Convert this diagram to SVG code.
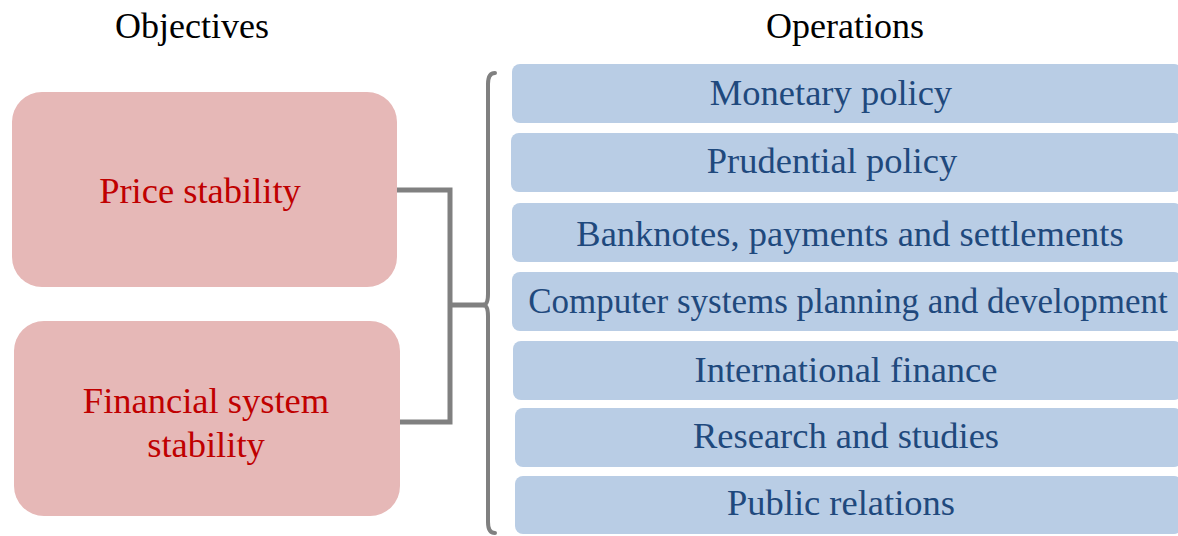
<svg xmlns="http://www.w3.org/2000/svg" width="1178" height="536" viewBox="0 0 1178 536">
<style>
.title{font-family:"Liberation Serif",serif;font-size:36px;fill:#000;text-anchor:middle}
.obj rect{fill:#E6B8B7}
.obj text{font-family:"Liberation Serif",serif;font-size:36.5px;fill:#C00000;text-anchor:middle}
.op rect{fill:#B9CDE5}
.op text{font-family:"Liberation Serif",serif;font-size:36.5px;fill:#1F497D;text-anchor:middle}
.conn{fill:none;stroke:#808080;stroke-width:5}
.brace{fill:none;stroke:#808080;stroke-width:4;stroke-linecap:round}
</style>
<rect width="1178" height="536" fill="#fff"/>
<text class="title" x="192" y="38">Objectives</text>
<text class="title" x="845" y="38">Operations</text>
<g id="obj1" class="obj"><rect x="12" y="92" width="385" height="195" rx="30"/><text x="200" y="203">Price stability</text></g>
<g id="obj2" class="obj"><rect x="14" y="321" width="386" height="195" rx="30"/><text x="206" y="413">Financial system</text><text x="206" y="457">stability</text></g>
<g id="op1" class="op"><rect x="512" y="64" width="670" height="59" rx="8"/><text x="831" y="105">Monetary policy</text></g>
<g id="op2" class="op"><rect x="511" y="133" width="671" height="59" rx="8"/><text x="832" y="173">Prudential policy</text></g>
<g id="op3" class="op"><rect x="512" y="203" width="670" height="59" rx="8"/><text x="850" y="246">Banknotes, payments and settlements</text></g>
<g id="op4" class="op"><rect x="512" y="272" width="670" height="59" rx="8"/><text x="848" y="313" style="font-size:35px">Computer systems planning and development</text></g>
<g id="op5" class="op"><rect x="513" y="341" width="669" height="59" rx="8"/><text x="846" y="382">International finance</text></g>
<g id="op6" class="op"><rect x="515" y="408" width="667" height="59" rx="8"/><text x="846" y="448">Research and studies</text></g>
<g id="op7" class="op"><rect x="515" y="476" width="667" height="58" rx="8"/><text x="841" y="515">Public relations</text></g>
<g id="connectors">
<path class="conn" d="M397 190 H450 V422 H400"/>
<path class="conn" d="M450 305 H484"/>
<path class="brace" d="M495 73 Q488 73 488 84 V294 Q488 305 483 305 Q488 305 488 316 V522 Q488 533 495 533"/>
</g>
</svg>
